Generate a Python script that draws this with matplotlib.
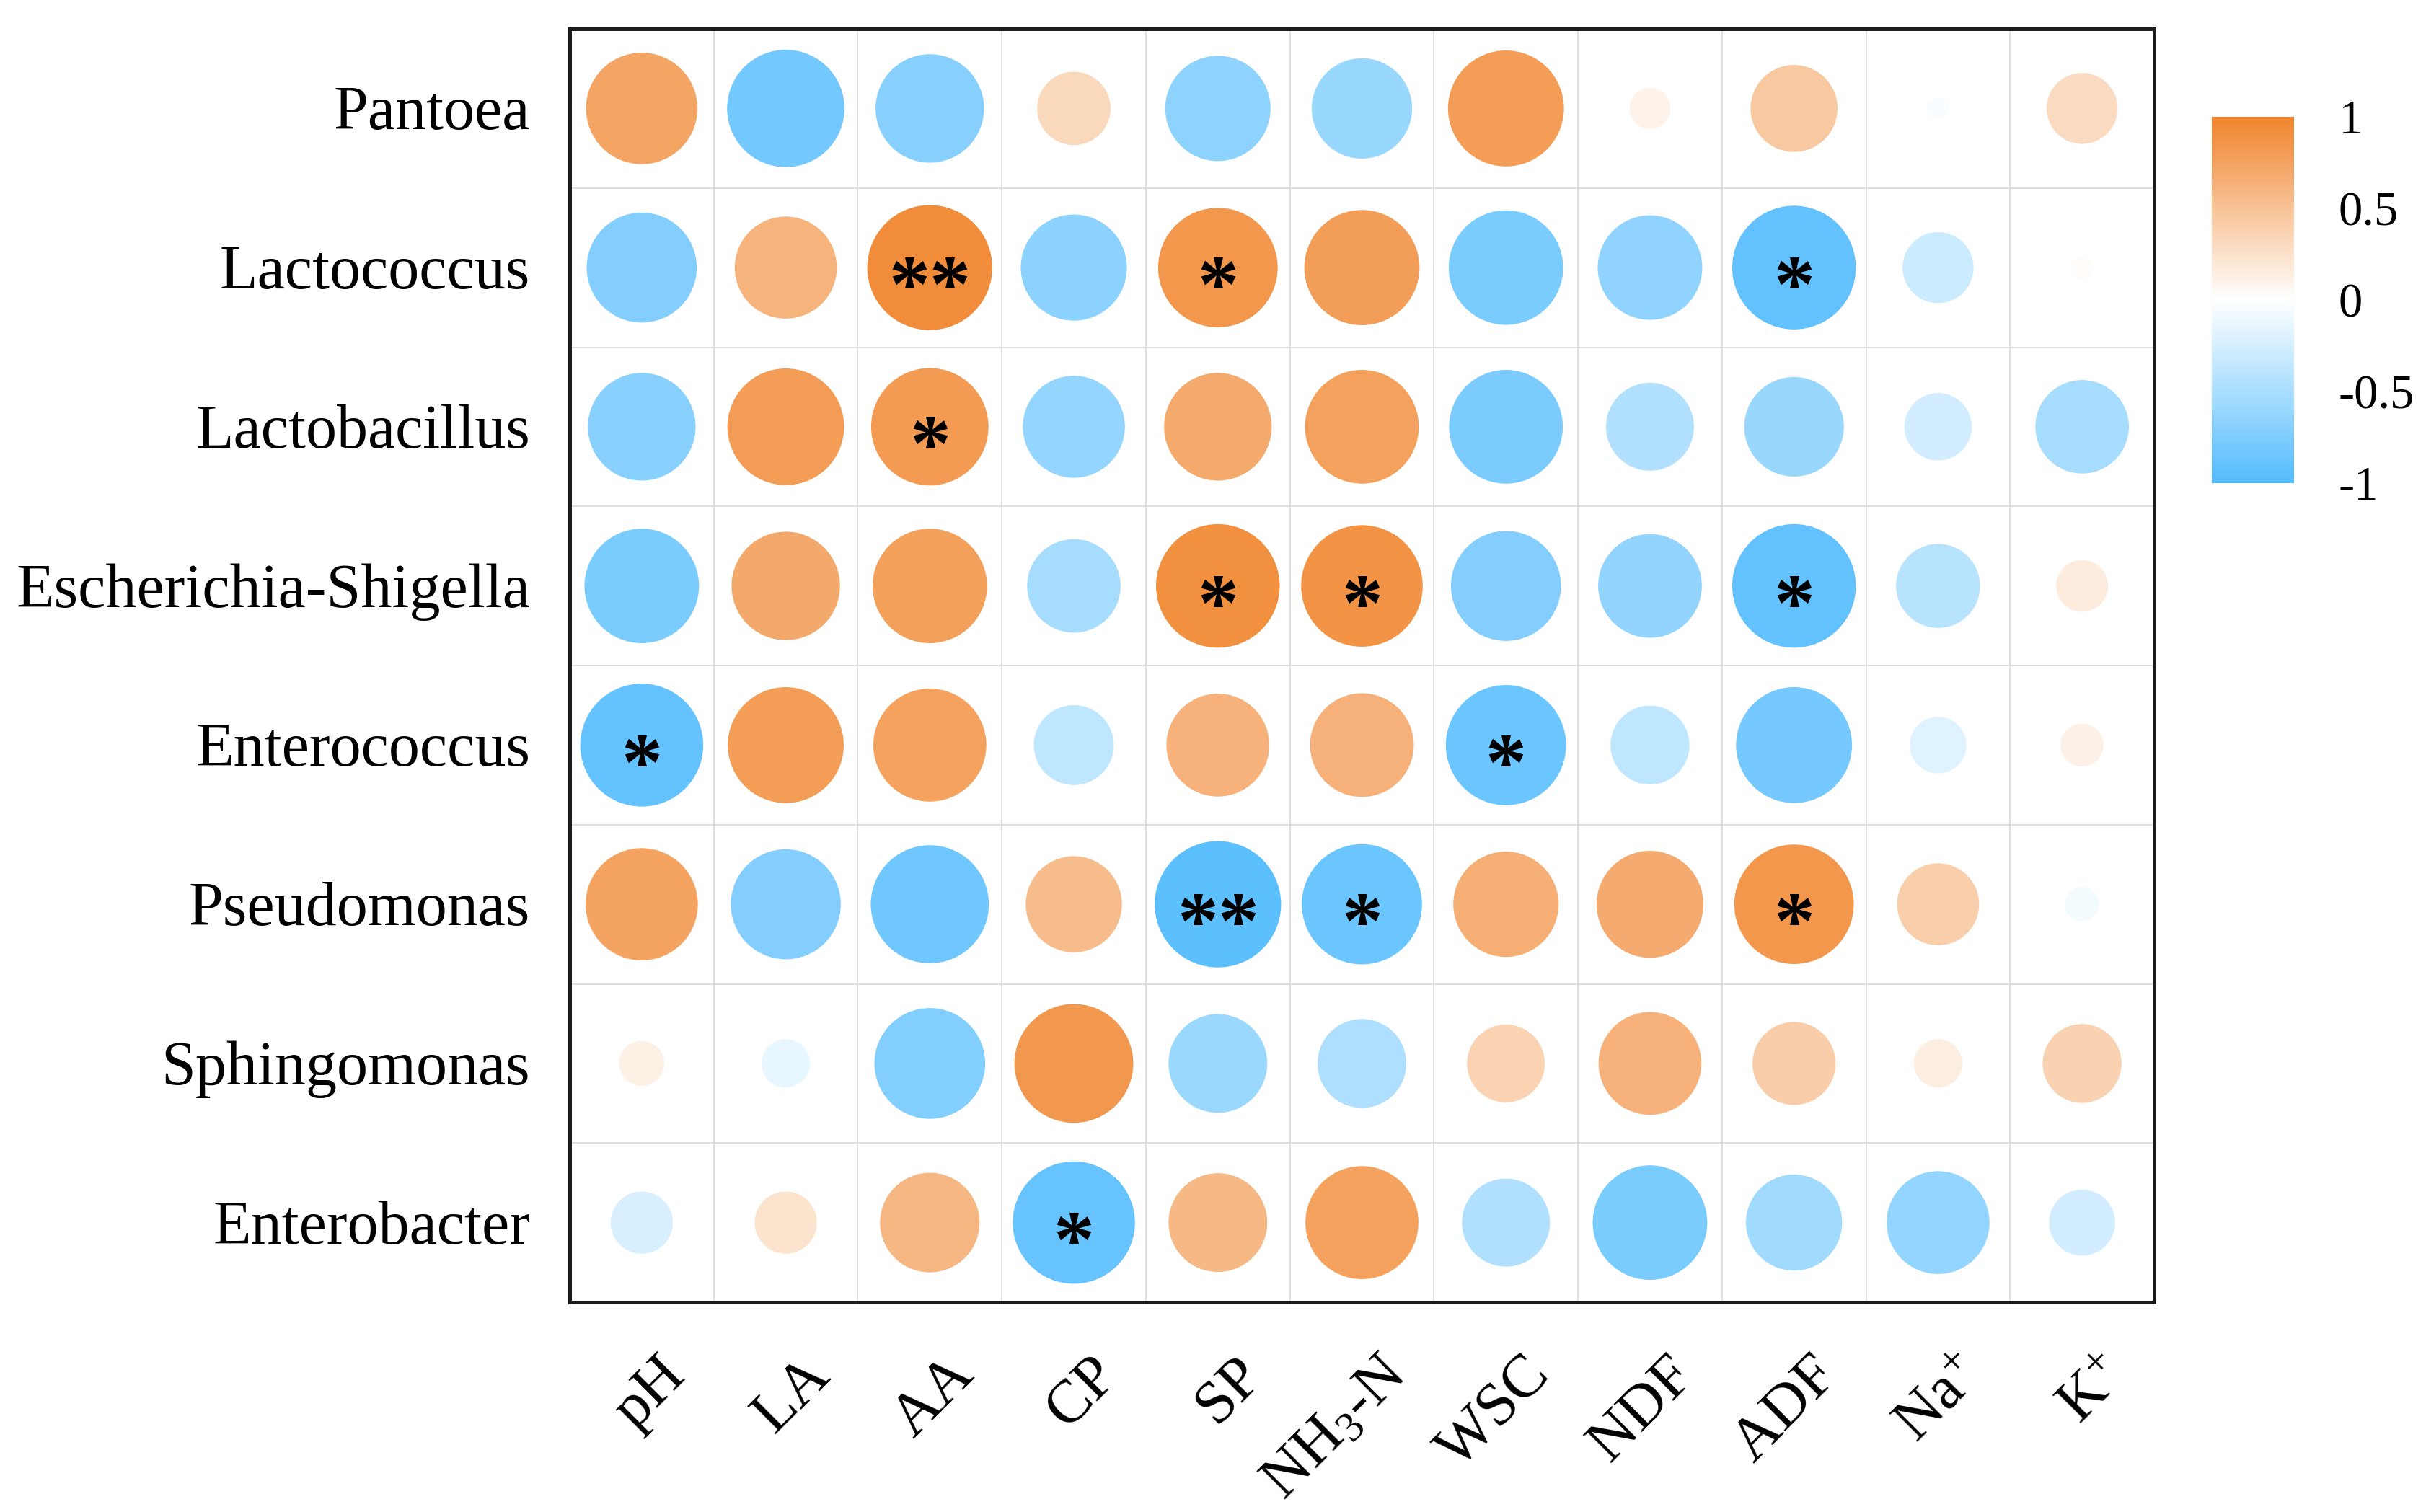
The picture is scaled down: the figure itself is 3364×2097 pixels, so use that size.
import numpy as np
import matplotlib
matplotlib.use("Agg")
import matplotlib.pyplot as plt
from matplotlib.colors import LinearSegmentedColormap, Normalize
from matplotlib import transforms
import matplotlib.cm as cm

plt.rcParams['font.family'] = ['Liberation Serif', 'DejaVu Serif']
plt.rcParams['mathtext.fontset'] = 'custom'
plt.rcParams['mathtext.rm'] = 'Liberation Serif'
plt.rcParams['mathtext.it'] = 'Liberation Serif:italic'
plt.rcParams['mathtext.bf'] = 'Liberation Serif:bold'

# ---------------- data ----------------
genera = ["Pantoea", "Lactococcus", "Lactobacillus", "Escherichia-Shigella",
          "Enterococcus", "Pseudomonas", "Sphingomonas", "Enterobacter"]
variables = ["pH", "LA", "AA", "CP", "SP", "NH$_3$-N", "WSC", "NDF", "ADF",
             "Na$^{+}$", "K$^{+}$"]

r_pantoea      = [0.74, -0.82, -0.70, 0.32, -0.66, -0.60, 0.80, 0.10, 0.45, -0.03, 0.30]
r_lactococcus  = [-0.72, 0.62, 0.93, -0.67, 0.85, 0.79, -0.78, -0.65, -0.91, -0.30, 0.03]
r_lactobacillus = [-0.69, 0.81, 0.82, -0.62, 0.69, 0.77, -0.77, -0.46, -0.59, -0.27, -0.52]
r_escherichia  = [-0.78, 0.70, 0.78, -0.52, 0.91, 0.88, -0.72, -0.64, -0.91, -0.42, 0.16]
r_enterococcus = [-0.90, 0.80, 0.76, -0.38, 0.63, 0.64, -0.86, -0.37, -0.80, -0.19, 0.11]
r_pseudomonas  = [0.75, -0.72, -0.83, 0.55, -0.95, -0.86, 0.66, 0.68, 0.85, 0.40, -0.07]
r_sphingomonas = [0.12, -0.14, -0.73, 0.84, -0.58, -0.47, 0.36, 0.63, 0.41, 0.14, 0.37]
r_enterobacter = [-0.23, 0.23, 0.59, -0.89, 0.58, 0.76, -0.46, -0.78, -0.55, -0.63, -0.26]

sig_pantoea      = ["", "", "", "", "", "", "", "", "", "", ""]
sig_lactococcus  = ["", "", "**", "", "*", "", "", "", "*", "", ""]
sig_lactobacillus = ["", "", "*", "", "", "", "", "", "", "", ""]
sig_escherichia  = ["", "", "", "", "*", "*", "", "", "*", "", ""]
sig_enterococcus = ["*", "", "", "", "", "", "*", "", "", "", ""]
sig_pseudomonas  = ["", "", "", "", "**", "*", "", "", "*", "", ""]
sig_sphingomonas = ["", "", "", "", "", "", "", "", "", "", ""]
sig_enterobacter = ["", "", "", "*", "", "", "", "", "", "", ""]

cbar_ticks = [1, 0.5, 0, -0.5, -1]
cbar_ticklabels = ["1", "0.5", "0", "-0.5", "-1"]

R = np.array([r_pantoea, r_lactococcus, r_lactobacillus, r_escherichia,
              r_enterococcus, r_pseudomonas, r_sphingomonas, r_enterobacter])
SIG = [sig_pantoea, sig_lactococcus, sig_lactobacillus, sig_escherichia,
       sig_enterococcus, sig_pseudomonas, sig_sphingomonas, sig_enterobacter]

# ---------------- figure ----------------
W, H, DPI = 3364, 2097, 100
fig = plt.figure(figsize=(W / DPI, H / DPI), dpi=DPI)

ax_l, ax_r, ax_t, ax_b = 790, 2987, 40, 1806
ax = fig.add_axes([ax_l / W, 1 - ax_b / H, (ax_r - ax_l) / W, (ax_b - ax_t) / H])

nrow, ncol = R.shape
ax.set_xlim(0, ncol)
ax.set_ylim(nrow, 0)

cmap = LinearSegmentedColormap.from_list("corr", ["#54BCFE", "#FFFFFF", "#F0852D"])
norm = Normalize(-1, 1)

cell_px = min((ax_r - ax_l) / ncol, (ax_b - ax_t) / nrow)

xs, ys, ss, cs = [], [], [], []
for i in range(nrow):
    for j in range(ncol):
        v = R[i, j]
        d_px = 0.9 * np.sqrt(abs(v)) * cell_px
        xs.append(j + 0.5)
        ys.append(i + 0.5)
        ss.append((d_px * 72 / DPI) ** 2)
        cs.append(v)

ax.scatter(xs, ys, s=ss, c=cs, cmap=cmap, norm=norm, marker='o',
           linewidths=0, zorder=3)

# significance stars
star_tr = transforms.offset_copy(ax.transData, fig=fig, x=0, y=-24, units='points')
for i in range(nrow):
    for j in range(ncol):
        if SIG[i][j]:
            ax.text(j + 0.5, i + 0.5, SIG[i][j], transform=star_tr,
                    ha='center', va='center', fontsize=82, fontweight='bold',
                    color='black', zorder=4)

# grid
ax.set_xticks(np.arange(1, ncol), minor=True)
ax.set_yticks(np.arange(1, nrow), minor=True)
ax.set_xticks([])
ax.set_yticks([])
ax.grid(which='minor', color='#D6D6D6', linewidth=1.1, zorder=0)
ax.tick_params(which='both', length=0)
ax.set_axisbelow(True)
for sp in ax.spines.values():
    sp.set_linewidth(3.6)
    sp.set_color('#1c1c1c')

# y labels
ytr = transforms.offset_copy(
    transforms.blended_transform_factory(ax.transAxes, ax.transData),
    fig=fig, x=0, y=-6, units='points')
for i, g in enumerate(genera):
    ax.text(-55 / (ax_r - ax_l), i + 0.5, g, transform=ytr, ha='right',
            va='center', fontsize=62, color='black')

# x labels
xtr = transforms.blended_transform_factory(ax.transData, ax.transAxes)
dx = 22 / cell_px
for j, v in enumerate(variables):
    ax.text(j + 0.5 + dx, -62 / (ax_b - ax_t), v, transform=xtr, rotation=45,
            rotation_mode='anchor', ha='right', va='top', fontsize=61, color='black')

# colorbar
cb_l, cb_r, cb_t, cb_b = 3067, 3181, 162, 670
cax = fig.add_axes([cb_l / W, 1 - cb_b / H, (cb_r - cb_l) / W, (cb_b - cb_t) / H])
sm = cm.ScalarMappable(norm=norm, cmap=cmap)
cb = fig.colorbar(sm, cax=cax, orientation='vertical')
cb.outline.set_visible(False)
cb.set_ticks(cbar_ticks)
cb.set_ticklabels(cbar_ticklabels)
cax.tick_params(length=0, pad=44, labelsize=48)

fig.savefig("out.png", dpi=DPI, facecolor='white')
